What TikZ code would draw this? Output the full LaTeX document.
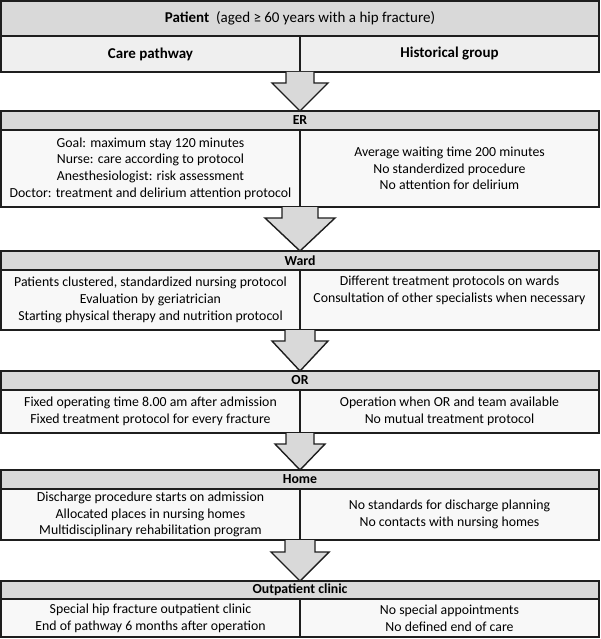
\documentclass[tikz,border=0pt]{standalone}
\usepackage{fontspec}
\setmainfont{Carlito}
\usetikzlibrary{calc}
\definecolor{hdr}{HTML}{D9D9D9}
\definecolor{sub}{HTML}{EFEFEF}
\definecolor{cellfill}{HTML}{F8F8F8}
\definecolor{edge}{HTML}{1E1E1E}
\newcommand{\blkarrow}[5]{\draw[blockarrow] let \p1=(#1), \p2=(#2) in (\x1-#3,\y1) -- (\x1-#3,\y1-#5) -- (\x1-#4,\y1-#5) -- (\x2,\y2) -- (\x1+#4,\y1-#5) -- (\x1+#3,\y1-#5) -- (\x1+#3,\y1);}
\begin{document}
\begin{tikzpicture}[x=1pt,y=-1pt,
  box/.style={draw=edge, line width=1.6pt, rectangle, inner sep=0pt, outer sep=0pt, align=center, font=\fontsize{13.8}{16.7}\selectfont},
  bar/.style={box, fill=hdr, minimum width=598pt, font=\fontsize{13.8}{16.7}\selectfont\bfseries},
  topbar/.style={box, fill=hdr, minimum width=598pt, font=\fontsize{15}{18}\selectfont\bfseries},
  subbar/.style={box, fill=sub, minimum width=299pt, font=\fontsize{15}{18}\selectfont\bfseries},
  cellbox/.style={box, fill=cellfill, minimum width=299pt},
  blockarrow/.style={draw=edge, line width=1.4pt, fill=hdr, line join=miter}]
\useasboundingbox (0,0) rectangle (600,639);
% header
\node[topbar, minimum height=35pt] (patient) at (300,18.5) {Patient\ \ \mdseries(aged ≥ 60 years with a hip fracture)};
\node[subbar, minimum height=36pt] (cpL) at (150.5,54) {Care pathway};
\node[subbar, minimum height=36pt] (cpR) at (449.5,54) {Historical group};
% ER
\node[bar, minimum height=19pt] (er) at (300,120.5) {ER};
\node[cellbox, minimum height=77pt] (erL) at (150.5,168.5) {Goal: maximum stay 120 minutes\\Nurse: care according to protocol\\Anesthesiologist: risk assessment\\Doctor: treatment and delirium attention protocol};
\node[cellbox, minimum height=77pt] (erR) at (449.5,168.5) {Average waiting time 200 minutes\\No standerdized procedure\\No attention for delirium};
% Ward
\node[bar, minimum height=19pt] (ward) at (300,260.5) {Ward};
\node[cellbox, minimum height=60pt] (wardL) at (150.5,300) {Patients clustered, standardized nursing protocol\\Evaluation by geriatrician\\Starting physical therapy and nutrition protocol};
\node[cellbox, minimum height=60pt] (wardR) at (449.5,300) {Different treatment protocols on wards\\Consultation of other specialists when necessary\\\strut};
% OR
\node[bar, minimum height=19pt] (or) at (300,380.5) {OR};
\node[cellbox, minimum height=43pt] (orL) at (150.5,411.5) {Fixed operating time 8.00 am after admission\\Fixed treatment protocol for every fracture};
\node[cellbox, minimum height=43pt] (orR) at (449.5,411.5) {Operation when OR and team available\\No mutual treatment protocol};
% Home
\node[bar, minimum height=19pt] (home) at (300,479.5) {Home};
\node[cellbox, minimum height=51pt] (homeL) at (150.5,514.5) {Discharge procedure starts on admission\\Allocated places in nursing homes\\Multidisciplinary rehabilitation program};
\node[cellbox, minimum height=51pt] (homeR) at (449.5,514.5) {No standards for discharge planning\\No contacts with nursing homes};
% Outpatient
\node[bar, minimum height=18pt] (out) at (300,590) {Outpatient clinic};
\node[cellbox, minimum height=38pt] (outL) at (150.5,618) {Special hip fracture outpatient clinic\\End of pathway 6 months after operation};
\node[cellbox, minimum height=38pt] (outR) at (449.5,618) {No special appointments\\No defined end of care};
% arrows
\blkarrow{cpL.south east}{er.north}{14pt}{28pt}{11pt}
\blkarrow{erL.south east}{ward.north}{18pt}{35pt}{11pt}
\blkarrow{wardL.south east}{or.north}{15pt}{28pt}{11pt}
\blkarrow{orL.south east}{home.north}{14pt}{25pt}{11pt}
\blkarrow{homeL.south east}{out.north}{15pt}{29pt}{12pt}
\end{tikzpicture}
\end{document}
